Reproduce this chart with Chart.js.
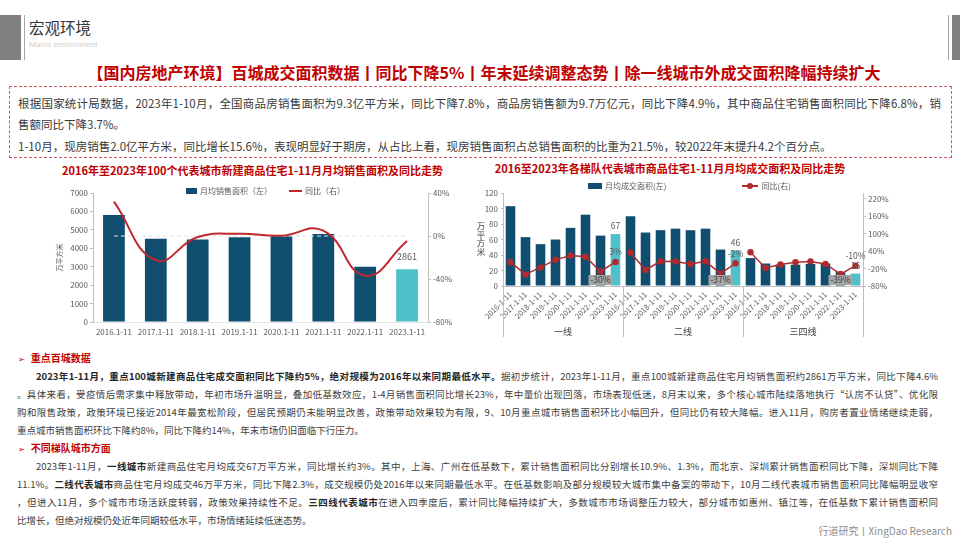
<!DOCTYPE html>
<html lang="zh-CN">
<head>
<meta charset="utf-8">
<title>宏观环境</title>
<script src="https://cdn.jsdelivr.net/npm/chart.js@4.4.1/dist/chart.umd.min.js"></script>
<style>
  html, body { margin: 0; padding: 0; background: #fff; }
  body { width: 960px; height: 540px; position: relative; overflow: hidden;
         font-family: 'Noto Sans CJK SC', 'Noto Sans', sans-serif; color: #404040; }
  .abs { position: absolute; }
  .box { left: 9px; top: 86px; width: 941px; height: 70px; border: 1px dashed #d0575b; }
  .bl { position: absolute; left: 8px; width: 923px; font-size: 11.5px; line-height: 18px; white-space: nowrap; color: #3a3a3a; }
  .full { text-align: justify; text-align-last: justify; }
  .ctitle { font-size: 11px; font-weight: bold; color: #c00000; text-align: center; line-height: 16px; }
  .legend { display: flex; align-items: center; font-size: 8px; color: #595959; line-height: 10px; white-space: nowrap; }
  .legend i { display: inline-block; margin-right: 3px; }
  .notes { left: 17px; top: 349px; width: 921px; font-size: 9.5px; color: #404040; }
  .notes div { height: 18px; line-height: 18px; white-space: nowrap; }
  .notes .head { color: #c00000; font-weight: bold; font-size: 10px; padding-left: 1px; }
  .notes .head span { font-family: 'DejaVu Sans', sans-serif; font-size: 8px; margin-right: 6px; }
  .notes .first { text-indent: 19px; }
  .notes b { color: #262626; }
</style>
</head>
<body>
<!-- header -->
<div class="abs" style="left:0;top:15px;width:21px;height:45px;background:#7f7f7f"></div>
<div class="abs" style="left:24px;top:15px;width:1px;height:45px;background:#a6a6a6"></div>
<div class="abs" style="left:29px;top:16px;font-size:15.5px;line-height:22px;color:#333">宏观环境</div>
<div class="abs" style="left:29px;top:39px;font-size:8px;line-height:12px;color:#cfcfcf;font-family:'Liberation Sans',sans-serif">Macro environment</div>
<div class="abs" style="left:948px;top:15px;width:1px;height:45px;background:#a6a6a6"></div>
<div class="abs" style="left:952px;top:15px;width:8px;height:45px;background:#7f7f7f"></div>

<div class="abs" style="left:4px;top:61px;width:960px;text-align:center;font-size:16px;line-height:22px;font-weight:bold;color:#c00000">【国内房地产环境】百城成交面积数据丨同比下降5%丨年末延续调整态势丨除一线城市外成交面积降幅持续扩大</div>

<div class="abs box">
  <div class="bl full" style="top:7px">根据国家统计局数据，2023年1-10月，全国商品房销售面积为9.3亿平方米，同比下降7.8%，商品房销售额为9.7万亿元，同比下降4.9%，其中商品住宅销售面积同比下降6.8%，销</div>
  <div class="bl" style="top:28px">售额同比下降3.7%。</div>
  <div class="bl" style="top:50px">1-10月，现房销售2.0亿平方米，同比增长15.6%，表现明显好于期房，从占比上看，现房销售面积占总销售面积的比重为21.5%，较2022年末提升4.2个百分点。</div>
</div>

<!-- left chart -->
<div class="abs ctitle" style="left:55px;top:162px;width:395px">2016年至2023年100个代表城市新建商品住宅1-11月月均销售面积及同比走势</div>
<canvas id="cityChart" class="abs" style="left:55px;top:178px" width="405" height="162"></canvas>
<div class="abs legend" style="left:186px;top:186px">
  <i style="width:11px;height:6px;background:#0f4e6e"></i><span>月均销售面积（左）</span>
  <i style="width:13px;height:2px;background:#c0282e;margin-left:17px"></i><span>同比（右）</span>
</div>

<!-- right chart -->
<div class="abs ctitle" style="left:470px;top:160px;width:400px">2016至2023年各梯队代表城市商品住宅1-11月月均成交面积及同比走势</div>
<canvas id="tierChart" class="abs" style="left:470px;top:178px" width="425" height="162"></canvas>
<div class="abs" style="left:476px;top:222px;writing-mode:vertical-rl;font-size:8.5px;line-height:10px;color:#404040">万平方米</div>
<div class="abs legend" style="left:588px;top:181px">
  <i style="width:14px;height:6px;background:#0f4e6e"></i><span>月均成交面积(左)</span>
  <i style="width:16px;height:2px;margin-left:76px;background:#b22a2e;position:relative"><b style="position:absolute;left:5px;top:-2px;width:6px;height:6px;border-radius:3px;background:#b22a2e"></b></i><span>同比(右)</span>
</div>

<!-- commentary -->
<div class="abs notes">
  <div class="head"><span>➢</span>重点百城数据</div>
  <div class="full first"><b>2023年1-11月，重点100城新建商品住宅成交面积同比下降约5%，绝对规模为2016年以来同期最低水平。</b>据初步统计，2023年1-11月，重点100城新建商品住宅月均销售面积约2861万平方米，同比下降4.6%</div>
  <div class="full">。具体来看，受疫情后需求集中释放带动，年初市场升温明显，叠加低基数效应，1-4月销售面积同比增长23%，年中量价出现回落，市场表现低迷，8月末以来，多个核心城市陆续落地执行“认房不认贷”、优化限</div>
  <div class="full">购和限售政策，政策环境已接近2014年最宽松阶段，但居民预期仍未能明显改善，政策带动效果较为有限，9、10月重点城市销售面积环比小幅回升，但同比仍有较大降幅。进入11月，购房者置业情绪继续走弱，</div>
  <div>重点城市销售面积环比下降约8%，同比下降约14%，年末市场仍旧面临下行压力。</div>
  <div class="head"><span>➢</span>不同梯队城市方面</div>
  <div class="full first">2023年1-11月，<b>一线城市</b>新建商品住宅月均成交67万平方米，同比增长约3%。其中，上海、广州在低基数下，累计销售面积同比分别增长10.9%、1.3%，而北京、深圳累计销售面积同比下降，深圳同比下降</div>
  <div class="full">11.1%。<b>二线代表城市</b>商品住宅月均成交46万平方米，同比下降2.3%，成交规模仍处2016年以来同期最低水平。在低基数影响及部分规模较大城市集中备案的带动下，10月二线代表城市销售面积同比降幅明显收窄</div>
  <div class="full">，但进入11月，多个城市市场活跃度转弱，政策效果持续性不足。<b>三四线代表城市</b>在进入四季度后，累计同比降幅持续扩大，多数城市市场调整压力较大，部分城市如惠州、镇江等，在低基数下累计销售面积同</div>
  <div>比增长，但绝对规模仍处近年同期较低水平，市场情绪延续低迷态势。</div>
</div>
<div class="abs" style="right:8px;top:523px;font-size:10px;line-height:16px;color:#8c8c8c">行道研究丨XingDao Research</div>

<script>
// 100 cities, Jan-Nov monthly average sales area (万平方米) and YoY (%)
const cityYears = ['2016.1-11', '2017.1-11', '2018.1-11', '2019.1-11', '2020.1-11', '2021.1-11', '2022.1-11', '2023.1-11'];
const cityArea = [5800, 4520, 4480, 4600, 4650, 4780, 3000, 2861];
const cityYoY = [32, -22.6, -1, 2, 0.3, 5, -37, -4.6];
const cityBase = [0, 0, 0, 0, 0, 0, 0, 0];
const cityAreaTicks = [0, 1000, 2000, 3000, 4000, 5000, 6000, 7000];
const cityPctTicks = [-80, -40, 0, 40];

// city tiers, Jan-Nov monthly average area and YoY (%)
const tierYears = ['2016-1-11', '2017-1-11', '2018-1-11', '2019-1-11', '2020-1-11', '2021-1-11', '2022-1-11', '2023-1-11'];
const tierNames = ['一线', '二线', '三四线'];
const tier1Area = [103, 63, 54, 60, 75, 92, 65, 67];
const tier2Area = [90, 69, 72, 74, 72, 74, 47, 46];
const tier3Area = [36, 29, 27.5, 27.5, 28.5, 29, 18, 16];
const tier1YoY = [2, -40, -16, 10, 25, 21, -30, 3];
const tier2YoY = [35, -25, 5, 4, -4, 5, -37, -2];
const tier3YoY = [36, -18, -6, 2, 4, -4, -39, -10];
const tierAreaTicks = [0, 20, 40, 60, 80, 100, 120];
const tierPctTicks = [-80, -20, 40, 100, 160, 220];

const DARK = '#0f4e6e';
const LIGHT = '#4ec0c9';
const RED = '#c0282e';
const AXIS = '#bfbfbf';
const FONT = "'Noto Sans CJK SC', 'Noto Sans', sans-serif";

Chart.defaults.font.family = FONT;
Chart.defaults.color = '#595959';
Chart.defaults.animation = false;

const tierLabels = tierNames.flatMap(() => tierYears);
const tierArea = [...tier1Area, ...tier2Area, ...tier3Area];
const tierYoY = [...tier1YoY, ...tier2YoY, ...tier3YoY];

function fixTicks(values) {
    return axis => { axis.ticks = values.map(v => ({ value: v })); };
}
function fixWidth(w) {
    return s => { s.width = w; };
}
function fixHeight(h) {
    return s => { s.height = h; };
}
function lastColor(arr, every) {
    return arr.map((v, i) => (i % every === every - 1 ? LIGHT : DARK));
}

// value label over the latest bar
const cityNote = {
    id: 'cityNote',
    afterDatasetsDraw(chart) {
        const bars = chart.getDatasetMeta(2).data;
        const i = cityArea.length - 1;
        const ctx = chart.ctx;
        ctx.save();
        ctx.font = '9px ' + FONT;
        ctx.fillStyle = '#595959';
        ctx.textAlign = 'center';
        ctx.textBaseline = 'middle';
        ctx.fillText(String(cityArea[i]), bars[i].x, bars[i].y - 13);
        ctx.restore();
    }
};

// group separators + labels for each tier
const tierNotes = {
    id: 'tierNotes',
    afterDatasetsDraw(chart) {
        const { ctx, chartArea, scales } = chart;
        const pts = chart.getDatasetMeta(0).data;
        const bars = chart.getDatasetMeta(1).data;
        const n = tierYears.length;
        ctx.save();
        ctx.strokeStyle = AXIS;
        ctx.lineWidth = 1;
        const cuts = [chartArea.left, chartArea.right];
        for (let g = 1; g < tierNames.length; g++) {
            cuts.push((scales.x.getPixelForValue(g * n - 1) + scales.x.getPixelForValue(g * n)) / 2);
        }
        cuts.forEach(x => {
            const px = Math.round(x) + 0.5;
            ctx.beginPath();
            ctx.moveTo(px, chartArea.bottom);
            ctx.lineTo(px, chart.height - 3);
            ctx.stroke();
        });

        ctx.font = '8.5px ' + FONT;
        ctx.textAlign = 'center';
        ctx.textBaseline = 'middle';
        tierNames.forEach((name, g) => {
            const last = g * n + n - 1;
            const prev = last - 1;
            ctx.fillStyle = '#595959';
            ctx.fillText(String(tierArea[last]), bars[last].x, bars[last].y - 8);
            ctx.fillText(tierYoY[last] + '%', pts[last].x, pts[last].y - 10);
            const bx = pts[prev].x;
            const by = chartArea.bottom - 6;
            ctx.fillStyle = '#a6a6a6';
            ctx.fillRect(bx - 12, by - 5, 24, 10);
            ctx.fillStyle = '#404040';
            ctx.fillText(tierYoY[prev] + '%', bx, by);
        });
        ctx.restore();
    }
};

new Chart(document.getElementById('cityChart'), {
    type: 'bar',
    data: {
        labels: cityYears,
        datasets: [
            {
                type: 'line', label: '同比（右）', data: cityYoY, yAxisID: 'y1',
                borderColor: RED, borderWidth: 2, tension: 0.45, pointRadius: 0, order: 0
            },
            {
                type: 'line', label: '0%', data: cityBase, yAxisID: 'y1',
                borderColor: '#dde4ea', borderWidth: 1, borderDash: [4, 3], pointRadius: 0, order: 1
            },
            {
                type: 'bar', label: '月均销售面积（左）', data: cityArea, yAxisID: 'y',
                backgroundColor: lastColor(cityArea, cityArea.length),
                barPercentage: 0.52, categoryPercentage: 1, order: 2
            }
        ]
    },
    options: {
        responsive: false,
        animation: false,
        layout: { padding: { top: 15, left: 0, right: 0, bottom: 0 } },
        plugins: { legend: { display: false }, tooltip: { enabled: false } },
        scales: {
            x: {
                grid: { display: false, drawTicks: false },
                border: { color: '#e3e3e3' },
                ticks: { font: { size: 8 }, maxRotation: 0, autoSkip: false, padding: 5 },
                afterFit: fixHeight(18)
            },
            y: {
                position: 'left', min: 0, max: 7000,
                afterBuildTicks: fixTicks(cityAreaTicks),
                grid: { drawOnChartArea: false, tickLength: 3, color: AXIS },
                border: { color: AXIS },
                ticks: { font: { size: 8 }, padding: 2, callback: v => String(v) },
                title: { display: true, text: '万平方米', font: { size: 7 }, padding: 0 },
                afterFit: fixWidth(38)
            },
            y1: {
                position: 'right', min: -80, max: 40,
                afterBuildTicks: fixTicks(cityPctTicks),
                grid: { drawOnChartArea: false, tickLength: 3, color: AXIS },
                border: { color: AXIS },
                ticks: { font: { size: 8 }, padding: 2, callback: v => v + '%' },
                afterFit: fixWidth(32)
            }
        }
    },
    plugins: [cityNote]
});

new Chart(document.getElementById('tierChart'), {
    type: 'bar',
    data: {
        labels: tierLabels,
        datasets: [
            {
                type: 'line', label: '同比(右)', data: tierYoY, yAxisID: 'y1', xAxisID: 'x',
                borderColor: '#b22a2e', borderWidth: 1.5, pointRadius: 2.5,
                pointBackgroundColor: '#b22a2e', pointBorderColor: '#b22a2e', order: 0,
                segment: { borderColor: c => (c.p1DataIndex % tierYears.length === 0 ? 'rgba(0,0,0,0)' : '#b22a2e') }
            },
            {
                type: 'bar', label: '月均成交面积(左)', data: tierArea, yAxisID: 'y', xAxisID: 'x',
                backgroundColor: lastColor(tierArea, tierYears.length),
                barPercentage: 0.64, categoryPercentage: 1, order: 1
            }
        ]
    },
    options: {
        responsive: false,
        animation: false,
        layout: { padding: { top: 15, left: 0, right: 0, bottom: 0 } },
        plugins: { legend: { display: false }, tooltip: { enabled: false } },
        scales: {
            x: {
                grid: { display: false, drawTicks: false },
                border: { color: AXIS },
                ticks: { font: { size: 7.5 }, minRotation: 45, maxRotation: 45, autoSkip: false, padding: 4 },
                afterFit: fixHeight(38)
            },
            x2: {
                type: 'category', labels: tierNames, position: 'bottom', offset: true,
                grid: { display: false, drawTicks: false },
                border: { display: false },
                ticks: { font: { size: 9 }, color: '#404040', padding: 2 },
                afterFit: fixHeight(16)
            },
            y: {
                position: 'left', min: 0, max: 120,
                afterBuildTicks: fixTicks(tierAreaTicks),
                grid: { drawOnChartArea: false, tickLength: 2, color: AXIS },
                border: { color: AXIS },
                ticks: { font: { size: 8 }, padding: 3 },
                afterFit: fixWidth(33)
            },
            y1: {
                position: 'right', min: -80, max: 240,
                afterBuildTicks: fixTicks(tierPctTicks),
                grid: { drawOnChartArea: false, tickLength: 3, color: AXIS },
                border: { color: AXIS },
                ticks: { font: { size: 8 }, padding: 2, callback: v => v + '%' },
                afterFit: fixWidth(32)
            }
        }
    },
    plugins: [tierNotes]
});
</script>
</body>
</html>
